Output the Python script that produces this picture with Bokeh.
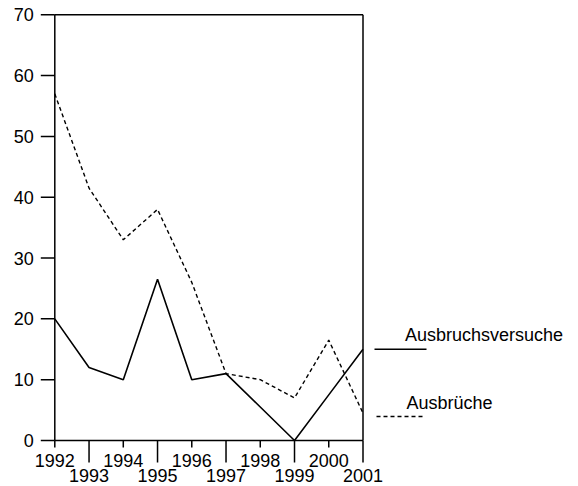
import math
from bokeh.plotting import figure
from bokeh.models import Range1d
from bokeh.core.properties import value
from bokeh.embed import file_html
from bokeh.resources import INLINE

# ---- data ----
years = [1992, 1993, 1994, 1995, 1996, 1997, 1998, 1999, 2000, 2001]
ausbruchsversuche = [20, 12, 10, 26.5, 10, 11, 5.5, 0, 7.5, 15]
ausbrueche = [57, 41.5, 33, 38, 26, 11, 10, 7, 16.5, 4.5]
y_ticks = [0, 10, 20, 30, 40, 50, 60, 70]
series_names = ["Ausbruchsversuche", "Ausbrüche"]

even_years = [y for y in years if y % 2 == 0]
odd_years = [y for y in years if y % 2 == 1]

# ---- layout (pixels) ----
FONT = "Liberation Sans"
FS = "18px"
W, H = 578, 486
AXIS_X = 54.3          # pixel of first year (y axis)
LAST_X = 362.5         # pixel of last year (right border)
ZERO_Y = 440           # pixel of value 0
TOP_Y = 14.3           # pixel of value 70
PXY = (LAST_X - AXIS_X) / (years[-1] - years[0])
PPU = (ZERO_Y - TOP_Y) / (y_ticks[-1] - y_ticks[0])

x_start = years[0] - AXIS_X / PXY
x_end = years[0] + (W - AXIS_X) / PXY
y_start = y_ticks[0] - (H - ZERO_Y) / PPU
y_end = y_ticks[-1] + TOP_Y / PPU

p = figure(width=W, height=H, title=None,
           x_range=Range1d(x_start, x_end), y_range=Range1d(y_start, y_end),
           x_axis_location=None, y_axis_location=None,
           output_backend="svg", toolbar_location=None,
           min_border_left=0, min_border_right=0,
           min_border_top=0, min_border_bottom=0)
p.background_fill_color = "white"
p.border_fill_color = "white"
p.outline_line_color = None
p.grid.visible = False

LW = 1.5
TXT = dict(text_font=value(FONT), text_font_size=value(FS), text_color="black")

# box: y axis, x axis, top border, right border
p.segment(x0=[years[0], years[0], years[0], years[-1]],
          y0=[y_ticks[0], y_ticks[0], y_ticks[-1], y_ticks[0]],
          x1=[years[0], years[-1], years[-1], years[-1]],
          y1=[y_ticks[-1], y_ticks[0], y_ticks[-1], y_ticks[-1]],
          line_color="black", line_width=LW)

# y ticks and labels
p.ray(x=[years[0]] * len(y_ticks), y=y_ticks, length=14, angle=math.pi,
      length_units="screen", line_color="black", line_width=LW)
p.text(x=[years[0]] * len(y_ticks), y=y_ticks, text=[str(t) for t in y_ticks],
       x_offset=-21, text_align="right", text_baseline="middle", **TXT)

# x ticks: short at even years, long at odd years
p.ray(x=even_years, y=[0] * len(even_years), length=7, angle=-math.pi / 2,
      length_units="screen", line_color="black", line_width=LW)
p.ray(x=odd_years, y=[0] * len(odd_years), length=22, angle=-math.pi / 2,
      length_units="screen", line_color="black", line_width=LW)

# x tick labels in two rows
p.text(x=even_years, y=[0] * len(even_years), text=[str(y) for y in even_years],
       y_offset=20, text_align="center", text_baseline="alphabetic", **TXT)
p.text(x=odd_years, y=[0] * len(odd_years), text=[str(y) for y in odd_years],
       y_offset=35, text_align="center", text_baseline="alphabetic", **TXT)

# series
p.line(years, ausbruchsversuche, line_color="black", line_width=1.6)
p.line(years, ausbrueche, line_color="black", line_width=1.4, line_dash="4 3")

# legend (to the right of the plot box), pixel offsets from the last year
legend_value = [15, 3.95]
legend_dash = ["solid", "4 3"]
line_from = [11.5, 13.5]
line_to = [63.5, 60.5]
text_dx = [42, 43.5]
text_dy = [14, 13]
for name, lv, dash, a, b, tx, ty in zip(series_names, legend_value, legend_dash,
                                        line_from, line_to, text_dx, text_dy):
    p.segment(x0=[years[-1] + a / PXY], y0=[lv], x1=[years[-1] + b / PXY], y1=[lv],
              line_color="black", line_width=1.4, line_dash=dash)
    p.text(x=[years[-1] + tx / PXY], y=[lv + ty / PPU], text=[name],
           text_align="left", text_baseline="alphabetic", **TXT)

open("out.html", "w").write(file_html(p, INLINE))
